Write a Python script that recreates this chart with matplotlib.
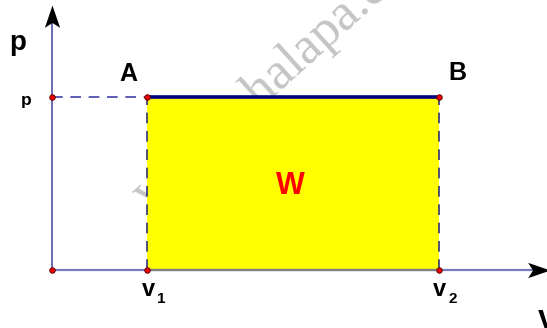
import matplotlib
matplotlib.use("Agg")
import matplotlib.pyplot as plt
from matplotlib.path import Path
import numpy as np

# ---- data (abstract units) ----
V_values = [1.0, 4.07]          # V1, V2
p_value = 1.0                   # constant pressure
point_labels = ["A", "B"]
v_labels = ["v", "v"]
v_subs = ["1", "2"]
work_label = "W"
axis_labels = ["p", "V"]
watermark = "www.phalapa.co.in"

W, H = 547, 328
fig = plt.figure(figsize=(W / 100, H / 100), dpi=100)
ax = fig.add_axes([0, 0, 1, 1])
ax.set_axis_off()
# view window (origin at pixel ~52,270)
xs = 95.0   # px per unit V
ys = 173.0  # px per unit p
ax.set_xlim(-52 / xs, (W - 52) / xs)
ax.set_ylim(-(H - 270) / ys, 270 / ys)

V1, V2 = V_values
p = p_value
x_end = 5.19
y_end = 1.503

# watermark (behind)
ax.text(0.272, 0.36, watermark, transform=ax.transAxes, rotation=42,
        fontsize=38, color="#c4c4c4", family="Liberation Serif",
        ha="left", va="baseline", rotation_mode="anchor", zorder=1)

# yellow area
ax.fill_between([V1, V2], 0, p, color="#ffff00", zorder=2, linewidth=0)

# axes
ax.plot([0, 0], [0, y_end - 0.05], color="#5050a8", lw=1.2, zorder=3)
ax.plot([0, x_end - 0.1], [0, 0], color="#7a7ac0", lw=1.6, zorder=3)
ax.plot([V1, V2], [0, 0], color="#808080", lw=1.6, zorder=3)

# arrowheads
arrow = Path([(0, 1), (0.55, -0.6), (0, -0.25), (-0.55, -0.6), (0, 1)],
             [Path.MOVETO, Path.LINETO, Path.LINETO, Path.LINETO, Path.CLOSEPOLY])
ax.plot([0], [y_end - 18 / 2 / ys], marker=arrow, markersize=20, color="black",
        markeredgewidth=0, zorder=4)
arrow_r = arrow.transformed(matplotlib.transforms.Affine2D().rotate_deg(-90))
ax.plot([x_end - 18 / 2 / xs], [0], marker=arrow_r, markersize=20, color="black",
        markeredgewidth=0, zorder=4)

# dashed guides
ax.plot([0, V1], [p, p], color="#3030a0", lw=1.1, ls=(0, (7, 5)), zorder=3)
for v in V_values:
    ax.plot([v, v], [0, p], color="#202070", lw=1.1, ls=(0, (7, 5)), zorder=3)

# isobaric line
ax.plot([V1, V2], [p, p], color="#000080", lw=2.6, zorder=4, solid_capstyle="butt")

# points
pts_x = [0, V1, V2, V1, V2, 0]
pts_y = [0, 0, 0, p, p, p]
ax.scatter(pts_x, pts_y, s=16, color="#ee0000", edgecolors="#550000",
           linewidths=0.6, zorder=5)

bold = dict(family="Liberation Sans", weight="bold")
# labels
ax.annotate(point_labels[0], (V1, p), xytext=(-19, 23), textcoords="offset pixels",
            ha="center", va="center", fontsize=18, **bold)
ax.annotate(point_labels[1], (V2, p), xytext=(19, 24), textcoords="offset pixels",
            ha="center", va="center", fontsize=18, **bold)
ax.annotate(axis_labels[0], (0, p), xytext=(-26, -4), textcoords="offset pixels",
            ha="center", va="center", fontsize=12.5, **bold)
ax.annotate(axis_labels[0], (0, y_end), xytext=(-34, -33), textcoords="offset pixels",
            ha="center", va="center", fontsize=20, **bold)
ax.annotate(axis_labels[1], (x_end, 0), xytext=(3, -54), textcoords="offset pixels",
            ha="center", va="center", fontsize=22, **bold)
for v, lab, sub in zip(V_values, v_labels, v_subs):
    ax.annotate(lab, (v, 0), xytext=(1, -20), textcoords="offset pixels",
                ha="center", va="center", fontsize=17, **bold)
    ax.annotate(sub, (v, 0), xytext=(14, -29), textcoords="offset pixels",
                ha="center", va="center", fontsize=11, **bold)
ax.annotate(work_label, ((V1 + V2) / 2, p / 2), xytext=(-2, -3),
            textcoords="offset pixels", ha="center", va="center",
            fontsize=22, color="#ff0000", zorder=6, **bold)

fig.savefig("out.png", dpi=100)
